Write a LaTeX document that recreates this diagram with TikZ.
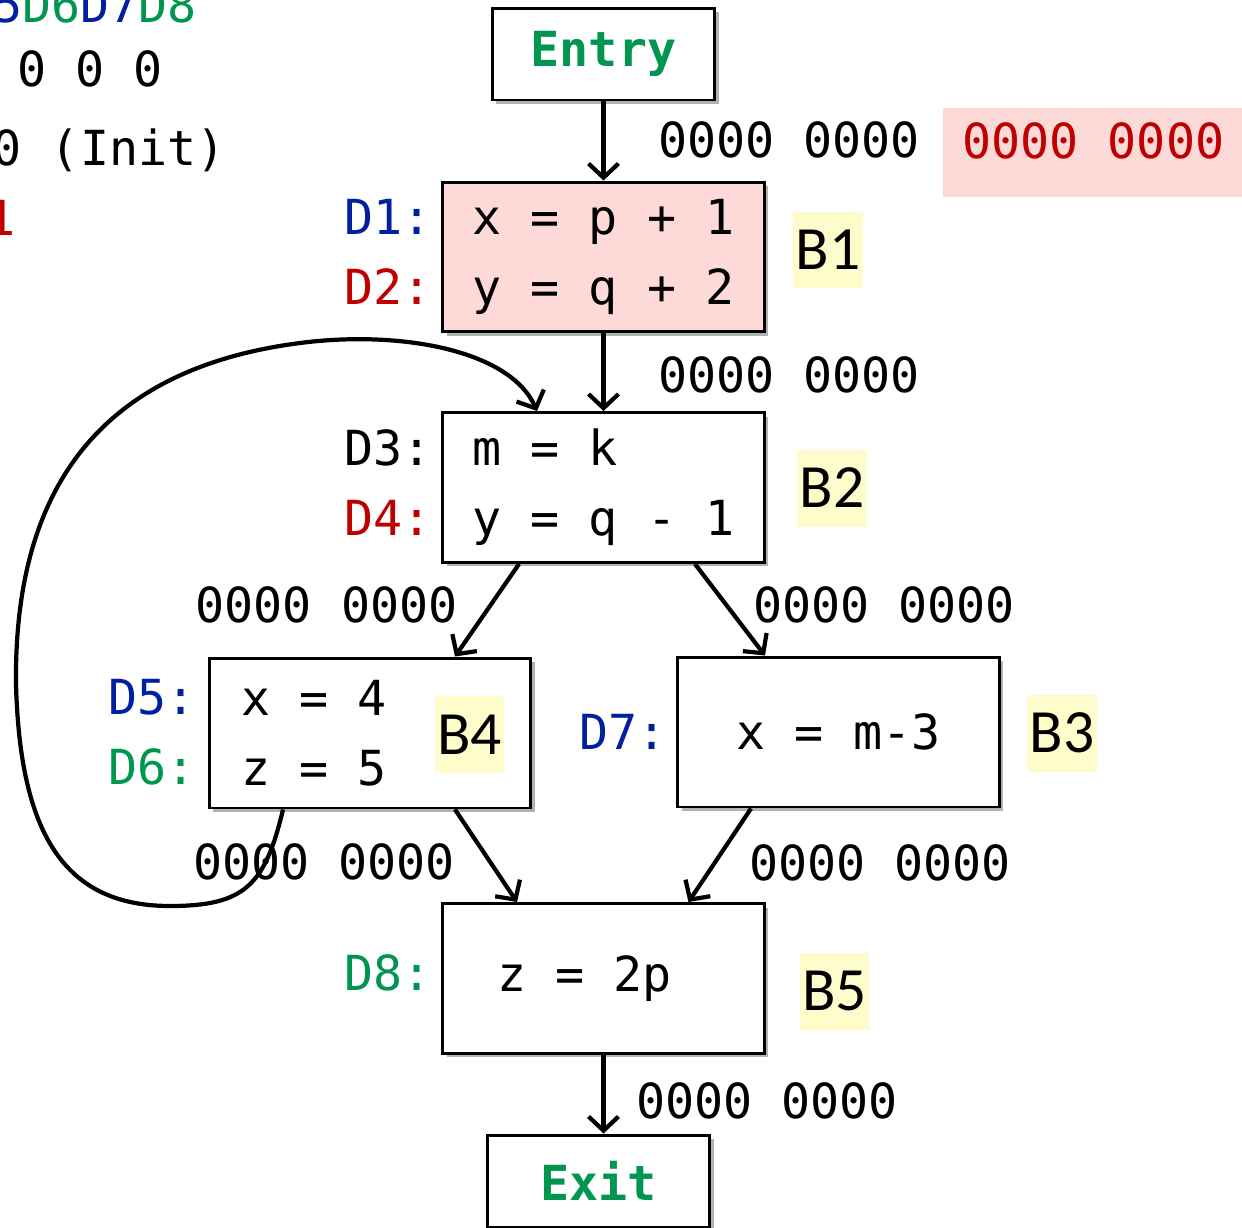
\documentclass[tikz,border=0pt]{standalone}
\usepackage{fontspec}
\setmonofont{DejaVu Sans Mono}
\newfontfamily\blockfont{Carlito}
\usetikzlibrary{arrows.meta,shadows}

\definecolor{defblue}{RGB}{0,32,160}
\definecolor{defred}{RGB}{192,0,0}
\definecolor{defgreen}{RGB}{0,150,80}
\definecolor{blockpink}{RGB}{253,218,216}
\definecolor{tagyellow}{RGB}{255,252,204}

\newcommand{\codefont}{\ttfamily\fontsize{27.5}{40}\selectfont}

\tikzset{
  block/.style={draw, line width=1.7pt, fill=white, minimum width=6.44cm,
    minimum height=3cm, align=left, font=\codefont,
    drop shadow={shadow xshift=0.08cm, shadow yshift=-0.08cm, fill=black, opacity=0.3}},
  endblock/.style={block, minimum width=4.46cm, minimum height=1.84cm,
    font=\codefont\bfseries, text=defgreen},
  code/.style={font=\codefont, align=left, anchor=west, inner sep=0pt},
  defn/.style={font=\codefont, anchor=base east, inner sep=0pt},
  bits/.style={font=\codefont, anchor=base, inner sep=0pt},
  tag/.style={fill=tagyellow, font=\blockfont\fontsize{35}{40}\selectfont,
    inner sep=0pt, minimum width=1.4cm, minimum height=1.54cm},
  flow/.style={line width=2.4pt, -{Straight Barb[length=8pt,width=17pt]}}
}

\begin{document}
\begin{tikzpicture}[x=0.02cm, y=-0.02cm]

    % Fix the page to the size of the original picture
    \useasboundingbox (0,0) rectangle (1242,1228);

    % Table rows that are cut off at the left edge
    \node[font=\codefont, anchor=base east, inner sep=0pt] (hdr) at (197,22)
        {{\color{defblue}5}{\color{defgreen}D6}{\color{defblue}D7}{\color{defgreen}D8}};
    \node[font=\codefont, anchor=base west, inner sep=0pt] (row1) at (17,86) {0 0 0};
    \node[font=\codefont, anchor=base west, inner sep=0pt] (row2) at (-7.6,165) {0 (Init)};
    \node[font=\codefont, anchor=base west, inner sep=0pt, text=defred] (row3) at (-14,235) {1};

    % Entry and exit
    \node[endblock] (entry) at (603.5,54) {Entry};
    \node[endblock] (exit) at (598.5,1181) {Exit};

    % Basic blocks
    \node[block, fill=blockpink] (b1) at (603.5,257) {x = p + 1\\y = q + 2};
    \node[block] (b2) at (603.5,487.5) {m = k\\y = q - 1};
    \node[block] (b4) at (370,733) {};
    \node[block] (b3) at (838.5,732) {x = m-3};
    \node[block] (b5) at (603.5,978.5) {};

    % Code of B4 and B5 sits off centre
    \node[code] (b4code) at (241,733) {x = 4\\z = 5};
    \node[code] (b5code) at (497,978.5) {z = 2p};

    % Block names
    \node[tag] (t1) at (828,250) {B1};
    \node[tag] (t2) at (832,488) {B2};
    \node[tag] (t4) at (469.5,734.5) {B4};
    \node[tag] (t3) at (1062,733) {B3};
    \node[tag] (t5) at (834.5,991) {B5};

    % Definition labels
    \node[defn, text=defblue] (d1) at (432,234) {D1:};
    \node[defn, text=defred] (d2) at (432,304) {D2:};
    \node[defn] (d3) at (432,465) {D3:};
    \node[defn, text=defred] (d4) at (432,535) {D4:};
    \node[defn, text=defblue] (d5) at (196,714) {D5:};
    \node[defn, text=defgreen] (d6) at (196,784) {D6:};
    \node[defn, text=defblue] (d7) at (667,749) {D7:};
    \node[defn, text=defgreen] (d8) at (432,990) {D8:};

    % Bit vectors on the edges
    \node[bits] (e0) at (789,157) {0000 0000};
    \node[fill=blockpink, text=defred, font=\codefont, anchor=north west, inner sep=0pt,
        minimum width=6cm, minimum height=1.78cm, text depth=0.5cm] (e0red) at (943,108) {0000 0000};
    \node[bits] (e1) at (789,392) {0000 0000};
    \node[bits] (e2) at (326.6,622) {0000 0000};
    \node[bits] (e3) at (884,622) {0000 0000};
    \node[bits] (e4) at (324,879) {0000 0000};
    \node[bits] (e5) at (880,880) {0000 0000};
    \node[bits] (e6) at (767,1118) {0000 0000};

    % Edges
    \draw[flow] (entry) -- (b1);
    \draw[flow] (b1) -- (b2);
    \draw[flow] ([xshift=-1.69cm]b2.south) -- ([xshift=1.7cm]b4.north);
    \draw[flow] ([xshift=1.83cm]b2.south) -- ([xshift=-1.47cm]b3.north);
    \draw[flow] ([xshift=1.7cm]b4.south) -- ([xshift=-1.73cm]b5.north);
    \draw[flow] ([xshift=-1.75cm]b3.south) -- ([xshift=1.7cm]b5.north);
    \draw[flow] (b5.south) -- (b5.south |- exit.north);

    % Back edge from B4 round to B2
    \draw[flow] ([xshift=-1.74cm]b4.south) .. controls (265,885) and (245,906) .. (170,906)
        .. controls (65,906) and (20,835) .. (16,684)
        .. controls (14,500) and (90,370) .. (300,343)
        .. controls (400,330) and (510,350) .. ([xshift=-1.33cm]b2.north);

\end{tikzpicture}
\end{document}
